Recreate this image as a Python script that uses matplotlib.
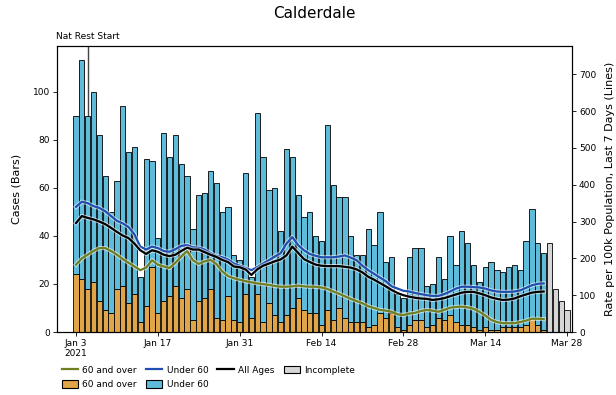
import matplotlib
matplotlib.use("Agg")
import matplotlib.pyplot as plt
import matplotlib.patheffects as pe
from matplotlib.patches import Patch
from matplotlib.lines import Line2D
import numpy as np
import pandas as pd

title = "Calderdale"
start_date = "2021-01-03"
nat_rest_date = "2021-01-05"
nat_rest_label = "Nat Rest Start"

# Daily cases (complete days), total and 60+
cases_total = [90, 113, 90, 100, 82, 65, 50, 63, 94, 75, 77, 23, 72, 71, 39,
               83, 73, 82, 70, 65, 43, 57, 58, 67, 62, 50, 52, 32, 30, 66, 23, 91,
               73, 59, 60, 42, 76, 73, 57, 48, 50, 40, 38, 86, 61, 56, 56, 40, 32,
               32, 43, 36, 50, 29, 31, 16, 14, 31, 35, 35, 19, 20, 31, 22, 40, 28, 42,
               37, 28, 21, 27, 29, 26, 25, 27, 28, 26, 38, 51, 37, 33]
cases_60_over = [24, 22, 18, 21, 13, 9, 8, 18, 19, 12, 16, 4, 11, 27, 8,
                 13, 15, 19, 14, 18, 5, 13, 14, 18, 6, 5, 15, 5, 4, 16, 6, 16,
                 4, 12, 7, 4, 7, 10, 14, 9, 8, 8, 3, 9, 5, 10, 6, 4, 4,
                 4, 2, 3, 8, 6, 8, 2, 1, 3, 5, 5, 2, 3, 6, 5, 7, 4, 3,
                 3, 2, 1, 2, 1, 1, 2, 2, 2, 2, 3, 6, 3, 1]
# Incomplete days (total only)
cases_incomplete = [37, 18, 13, 9]

# 7-day rates per 100k (right axis)
rate_all = [296, 315, 310, 306, 300, 293, 283, 272, 262, 255,
            240, 222, 212, 222, 218, 210, 206, 210, 220, 229,
            224, 224, 217, 210, 204, 196, 190, 178, 176, 170,
            155, 170, 180, 186, 192, 197, 208, 232, 215, 198,
            190, 183, 180, 179, 179, 179, 177, 175, 170, 162,
            150, 142, 133, 124, 114, 106, 100, 96, 93, 91,
            90, 87, 89, 92, 97, 102, 107, 109, 109, 105,
            100, 94, 90, 87, 88, 91, 97, 102, 107, 109, 110]
rate_under60 = [340, 354, 350, 342, 337, 328, 315, 302, 295, 285,
                265, 232, 224, 232, 228, 220, 218, 225, 234, 236,
                230, 229, 224, 214, 207, 203, 197, 186, 180, 174,
                168, 176, 186, 195, 205, 214, 240, 258, 236, 222,
                212, 207, 203, 203, 203, 205, 208, 202, 195, 180,
                168, 158, 148, 138, 124, 118, 112, 110, 106, 103,
                100, 98, 98, 103, 110, 118, 123, 123, 122, 121,
                118, 113, 110, 109, 109, 110, 113, 120, 127, 131, 132]
rate_60_over = [183, 200, 210, 220, 228, 228, 220, 210, 198, 188,
                178, 168, 175, 195, 183, 178, 174, 188, 205, 220,
                195, 185, 192, 196, 185, 165, 152, 146, 142, 138,
                135, 132, 130, 128, 125, 123, 123, 124, 126, 124,
                123, 123, 121, 117, 110, 104, 97, 90, 84, 78,
                70, 65, 60, 58, 55, 48, 46, 50, 52, 57,
                60, 58, 55, 60, 66, 68, 69, 67, 63, 55,
                45, 33, 27, 24, 24, 24, 27, 31, 36, 36, 35]

tick_dates = ["2021-01-03", "2021-01-17", "2021-01-31", "2021-02-14",
              "2021-02-28", "2021-03-14", "2021-03-28"]
tick_labels = ["Jan 3\n2021", "Jan 17", "Jan 31", "Feb 14", "Feb 28", "Mar 14", "Mar 28"]

c_over = "#e0a449"
c_under = "#5ebbda"
c_incomplete = "#d6d6d6"
c_line_over = "#6f7f22"
c_line_under = "#1f4fb0"
c_line_all = "#000000"

n = len(cases_total)
dates = pd.date_range(start_date, periods=n)
inc_dates = pd.date_range(dates[-1] + pd.Timedelta(days=1), periods=len(cases_incomplete))
line_dates = pd.date_range(start_date, periods=len(rate_all))
tot = np.array(cases_total)
over = np.array(cases_60_over)
under = tot - over

fig = plt.figure(figsize=(6.16, 3.95), dpi=100)
ax = fig.add_axes([57/616, 1-332/395, (572-57)/616, (332-46)/395])
ax2 = ax.twinx()

w = 0.9
ax.axvline(pd.Timestamp(nat_rest_date), color="#444444", lw=1, zorder=0.5)
ax.bar(dates, over, width=w, color=c_over, edgecolor="black", linewidth=0.6, zorder=2)
ax.bar(dates, under, bottom=over, width=w, color=c_under, edgecolor="black", linewidth=0.6, zorder=2)
ax.bar(inc_dates, cases_incomplete, width=w, color=c_incomplete, edgecolor="black", linewidth=0.6, zorder=2)

fx = [pe.Stroke(linewidth=3.0, foreground="white", alpha=0.6), pe.Normal()]
ax2.plot(line_dates, rate_60_over, color=c_line_over, lw=1.6, path_effects=fx)
ax2.plot(line_dates, rate_under60, color=c_line_under, lw=1.6, path_effects=fx)
ax2.plot(line_dates, rate_all, color=c_line_all, lw=1.6, path_effects=fx)

x0 = pd.Timestamp(start_date)
ax.set_xlim(x0 - pd.Timedelta(days=3.25), x0 + pd.Timedelta(days=84.85))
ax.set_ylim(0, 119)
ax2.set_ylim(0, 777)
ax.set_yticks([0, 20, 40, 60, 80, 100])
ax2.set_yticks(range(0, 701, 100))
ax.set_xticks([pd.Timestamp(d) for d in tick_dates])
ax.set_xticklabels(tick_labels)
for a in (ax, ax2):
    a.tick_params(labelsize=6.5, length=3, width=0.6, pad=2)
    for s in a.spines.values():
        s.set_linewidth(0.8)
ax.set_ylabel("Cases (Bars)", fontsize=8, labelpad=8)
ax2.set_ylabel("Rate per 100k Population, Last 7 Days (Lines)", fontsize=8, labelpad=6)
ax.set_title(title, fontsize=11, pad=20)
ax.text(pd.Timestamp(nat_rest_date), 121, nat_rest_label, ha="center", va="bottom",
        fontsize=6.5, clip_on=False)

handles = [
    Line2D([], [], color=c_line_over, lw=1.6),
    Patch(facecolor=c_over, edgecolor="black", lw=0.8),
    Line2D([], [], color=c_line_under, lw=1.6),
    Patch(facecolor=c_under, edgecolor="black", lw=0.8),
    Line2D([], [], color=c_line_all, lw=1.6),
    Patch(facecolor=c_incomplete, edgecolor="black", lw=0.8),
]
labels = ["60 and over", "60 and over", "Under 60", "Under 60", "All Ages", "Incomplete"]
fig.legend(handles, labels, loc="upper left", bbox_to_anchor=(58/616, 1-362/395), ncol=4,
           frameon=False, fontsize=6.5, handlelength=1.8, handleheight=0.9,
           columnspacing=1.0, labelspacing=0.6, handletextpad=0.5, borderaxespad=0)

fig.savefig("out.png", dpi=100)
